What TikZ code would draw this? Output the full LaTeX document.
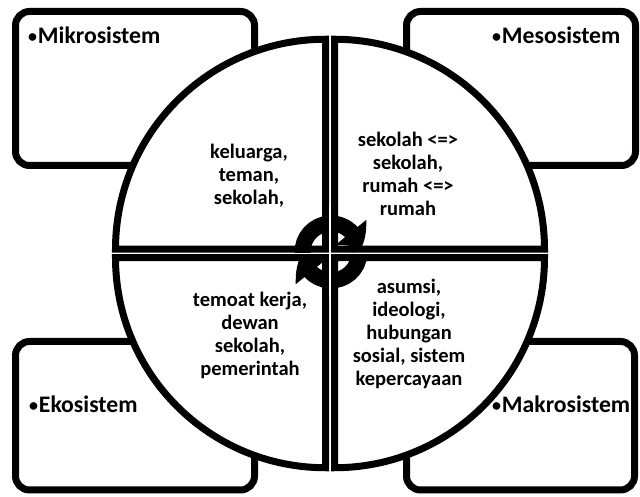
\documentclass[tikz,border=0pt]{standalone}
\usepackage{fontspec}
\setmainfont{Carlito}
\usetikzlibrary{arrows.meta,bending}
\newcommand{\dotmark}{{\fontsize{18}{18}\selectfont\raisebox{1.6pt}{•}}\hspace{0.8pt}}

\begin{document}
\begin{tikzpicture}[transform shape, x=1pt, y=1pt,
	box/.style={draw, fill=white, line width=7pt, rounded corners=14pt},
	quarter/.style={draw, fill=white, line width=7pt, line join=miter},
	turn/.style={line width=16pt, -{Triangle[width=38pt, length=21pt, bend]}},
	gap/.style={draw=white, line width=1.5pt},
	system/.style={anchor=base west, inner sep=0pt, font=\bfseries\fontsize{23.7}{28}\selectfont},
	member/.style={align=center, inner sep=0pt, font=\bfseries\fontsize{20.5}{23}\selectfont}]
	\useasboundingbox (0, 0) rectangle (640, 497);
	\draw[box] (15.5, 331.5) rectangle (254.5, 485.5);
	\draw[box] (406.5, 331.5) rectangle (635.5, 485.5);
	\draw[box] (15.5, 7) rectangle (254.5, 155.5);
	\draw[box] (406.5, 7) rectangle (634.5, 155.5);
	\draw[quarter] (325.5, 247.75) -- ++(-210, 0) arc[start angle=180, end angle=90, radius=210] -- cycle;
	\draw[quarter] (334.5, 247.75) -- ++(0, 210) arc[start angle=90, end angle=0, radius=210] -- cycle;
	\draw[quarter] (334.5, 239.25) -- ++(210, 0) arc[start angle=0, end angle=-90, radius=210] -- cycle;
	\draw[quarter] (325.5, 239.25) -- ++(0, -210) arc[start angle=270, end angle=180, radius=210] -- cycle;
	\coordinate (hub) at (331, 245);
	\draw[turn] (hub) ++(183:28.5) arc[start angle=183, end angle=3, radius=28.5];
	\draw[turn] (hub) ++(-3:28.5) arc[start angle=-3, end angle=-177, radius=28.5];
	\draw[gap] (330, 200) -- (330, 292);
	\draw[gap] (288, 243.5) -- (376, 243.5);
	\node[system] (mikro) at (28, 453) {\dotmark Mikrosistem};
	\node[system] (meso) at (492, 453) {\dotmark Mesosistem};
	\node[system] (ekso) at (29, 84) {\dotmark Ekosistem};
	\node[system] (makro) at (492, 84) {\dotmark Makrosistem};
	\node[member] (mikro text) at (249, 321) {keluarga,\\teman,\\sekolah,};
	\node[member] (meso text) at (408, 323) {sekolah <=>\\sekolah,\\rumah <=>\\rumah};
	\node[member] (ekso text) at (250, 162) {temoat kerja,\\dewan\\sekolah,\\pemerintah};
	\node[member] (makro text) at (409, 163.5) {asumsi,\\ideologi,\\hubungan\\sosial, sistem\\kepercayaan};
\end{tikzpicture}
\end{document}
